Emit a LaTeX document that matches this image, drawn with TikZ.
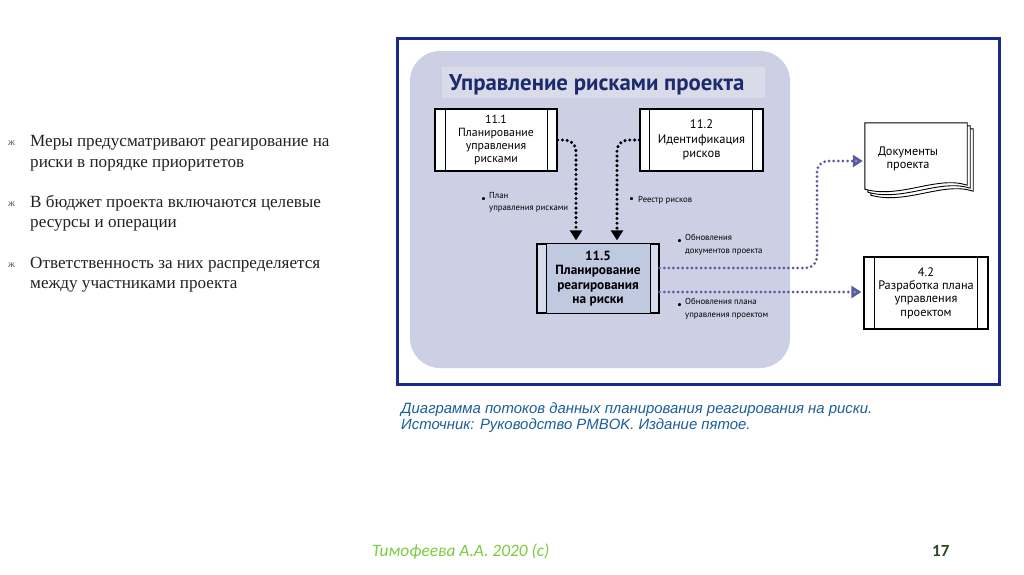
\documentclass[tikz,border=0pt]{standalone}
\usepackage{fontspec}
\setmainfont{Liberation Serif}
\newfontfamily\diag{PT Sans}
\newfontfamily\capf{Liberation Sans}
\newfontfamily\footf{Carlito}
\usetikzlibrary{arrows.meta}
\definecolor{framecol}{HTML}{1A2A8C}
\definecolor{lavender}{HTML}{CDCFE5}
\definecolor{band}{HTML}{DADBE8}
\definecolor{titlecol}{HTML}{1C2A6E}
\definecolor{strip}{HTML}{D6DCEB}
\definecolor{core}{HTML}{BFC9DF}
\definecolor{bluedot}{HTML}{565C9E}
\definecolor{bluetip}{HTML}{8E9AD0}
\definecolor{capcol}{HTML}{1B5E9B}
\definecolor{footgreen}{HTML}{7ACC3C}
\definecolor{numcol}{HTML}{2F4A22}
\definecolor{bulcol}{HTML}{555555}
\definecolor{bodycol}{HTML}{222222}
\tikzset{
  bodytext/.style={anchor=base west, inner sep=0pt, text=bodycol, font=\fontsize{17.1}{20}\selectfont},
  bulmark/.style={anchor=base west, inner sep=0pt, text=bulcol, font=\fontsize{10}{10}\selectfont},
  procbox/.style={draw=black, line width=1.3pt, fill=white, rectangle, inner sep=0pt, align=center,
     font=\diag\fontsize{11.8}{12.7}\selectfont},
  lab/.style={inner sep=0pt, align=left, font=\diag\fontsize{8.7}{12.5}\selectfont},
  labdot/.style={inner sep=0pt, anchor=base west, font=\diag\fontsize{11}{12}\selectfont},
  blackflow/.style={line width=3.4pt, line cap=round, dash pattern=on 0pt off 4.8pt, black,
     rounded corners=11pt, -{Triangle[width=12pt,length=10pt]}, shorten >=3pt},
  blueflow/.style={line width=3pt, line cap=round, dash pattern=on 0pt off 4.6pt, bluedot,
     rounded corners=11pt, -{Triangle[width=12pt,length=10pt,fill=bluetip]}, shorten >=2pt},
  captext/.style={anchor=base west, inner sep=0pt, text=capcol, font=\capf\itshape\fontsize{14.9}{16}\selectfont},
  page/.style={draw=black, line width=0.9pt, fill=white}
}
\begin{document}
\begin{tikzpicture}[x=1pt,y=-1pt]
\useasboundingbox (0,0) rectangle (1024,574);
\fill[white] (0,0) rectangle (1024,574);

% left bullets
\node[bulmark] (m1) at (8,145) {ж};
\node[bodytext] (t1) at (30,146) {Меры предусматривают реагирование на};
\node[bodytext] (t2) at (30,167) {риски в порядке приоритетов};
\node[bulmark] (m2) at (8,206) {ж};
\node[bodytext] (t3) at (30,207) {В бюджет проекта включаются целевые};
\node[bodytext] (t4) at (30,227) {ресурсы и операции};
\node[bulmark] (m3) at (8,267) {ж};
\node[bodytext] (t5) at (30,268) {Ответственность за них распределяется};
\node[bodytext] (t6) at (30,288) {между участниками проекта};

% diagram frame
\draw[framecol, line width=3pt] (397,38) rectangle (999,384);
\fill[lavender] (410,51) [rounded corners=30pt] rectangle (790,368);
\fill[band] (442,67) rectangle (765,98);
\node[anchor=base west, inner sep=0pt, text=titlecol, font=\diag\bfseries\fontsize{22.8}{24}\selectfont] (title) at (449,90) {Управление рисками проекта};

% process boxes
\node[procbox, minimum width=122pt, minimum height=62pt] (b111) at (496,140)
  {11.1\\Планирование\\управления\\рисками};
\draw[line width=1.1pt] ([xshift=11pt]b111.north west) -- ([xshift=11pt]b111.south west)
  ([xshift=-10pt]b111.north east) -- ([xshift=-10pt]b111.south east);

\node[procbox, minimum width=123pt, minimum height=62pt, font=\diag\fontsize{12.5}{14.5}\selectfont] (b112) at (701.5,140)
  {11.2\\Идентификация\\рисков};
\draw[line width=1.1pt] ([xshift=10pt]b112.north west) -- ([xshift=10pt]b112.south west)
  ([xshift=-11pt]b112.north east) -- ([xshift=-11pt]b112.south east);

\node[procbox, fill=strip, minimum width=122pt, minimum height=69pt] (b115) at (598,278.5) {};
\fill[core] ([xshift=10pt,yshift=-1pt]b115.north west) rectangle ([xshift=-9pt,yshift=1pt]b115.south east);
\draw[line width=1.1pt] ([xshift=10pt]b115.north west) -- ([xshift=10pt]b115.south west)
  ([xshift=-9pt]b115.north east) -- ([xshift=-9pt]b115.south east);
\draw[line width=1.3pt] (b115.north west) rectangle (b115.south east);
\node[inner sep=0pt, align=center, font=\diag\bfseries\fontsize{13.3}{14.5}\selectfont] (t115) at (b115.center)
  {11.5\\Планирование\\реагирования\\на риски};

\node[procbox, minimum width=124pt, minimum height=72pt, font=\diag\fontsize{12.3}{13.4}\selectfont] (b42) at (926,293)
  {4.2\\Разработка плана\\управления\\проектом};
\draw[line width=1.1pt] ([xshift=11pt]b42.north west) -- ([xshift=11pt]b42.south west)
  ([xshift=-11pt]b42.north east) -- ([xshift=-11pt]b42.south east);

% document stack
\node[inner sep=0pt, minimum width=102pt, minimum height=66pt] (doc) at (916,156) {};
\foreach \d in {6,3,0}{
  \draw[page] ([xshift=\d pt, yshift=-\d pt]doc.north west) -- ([xshift=\d pt, yshift=-\d pt]doc.north east)
    -- ([xshift=\d pt, yshift=-\d pt+4pt]doc.south east)
    .. controls ([xshift=\d pt-30pt, yshift=-\d pt+14pt]doc.south east) and ([xshift=\d pt+35pt, yshift=-\d pt-10pt]doc.south west)
    .. ([xshift=\d pt, yshift=-\d pt]doc.south west) -- cycle;
}
\node[inner sep=0pt, align=center, font=\diag\fontsize{12.3}{12.5}\selectfont] (doct) at ([xshift=-8pt,yshift=-3pt]doc.center) {Документы\\проекта};

% flows
\coordinate (k1) at (817,161);
\coordinate (s1) at ([yshift=10.5pt]b115.east);
\coordinate (s2) at ([yshift=-13.5pt]b115.east);
\draw[blackflow] (b111.east) -| ([xshift=-22pt]b115.north);
\draw[blackflow] (b112.west) -| ([xshift=19pt]b115.north);
\draw[blueflow] (s1) -| (k1) -- (doc.west |- k1);
\draw[blueflow] (s2) -- (b42.west |- s2);

% labels
\node[labdot] (l1b) at (481,202) {•};
\node[lab, anchor=north west] (l1) at (489,192) {План\\управления рисками};
\node[labdot] (l2b) at (629,202) {•};
\node[lab, anchor=base west] (l2) at (638,202) {Реестр рисков};
\node[labdot] (l3b) at (677,244) {•};
\node[lab, anchor=north west] (l3) at (685,234) {Обновления\\документов проекта};
\node[labdot] (l4b) at (677,308) {•};
\node[lab, anchor=north west] (l4) at (685,298) {Обновления плана\\управления проектом};

% caption
\node[captext] (c1) at (401,413) {Диаграмма потоков данных планирования реагирования на риски.};
\node[captext] (c2) at (401,429.5) {Источник: Руководство PMBOK. Издание пятое.};

% footer
\node[anchor=base west, inner sep=0pt, text=footgreen, font=\footf\itshape\fontsize{17.4}{18}\selectfont] (f1) at (372,556) {Тимофеева А.А. 2020 (с)};
\node[anchor=base west, inner sep=0pt, text=numcol, font=\footf\bfseries\fontsize{17}{18}\selectfont] (f2) at (932,556) {17};
\end{tikzpicture}
\end{document}
